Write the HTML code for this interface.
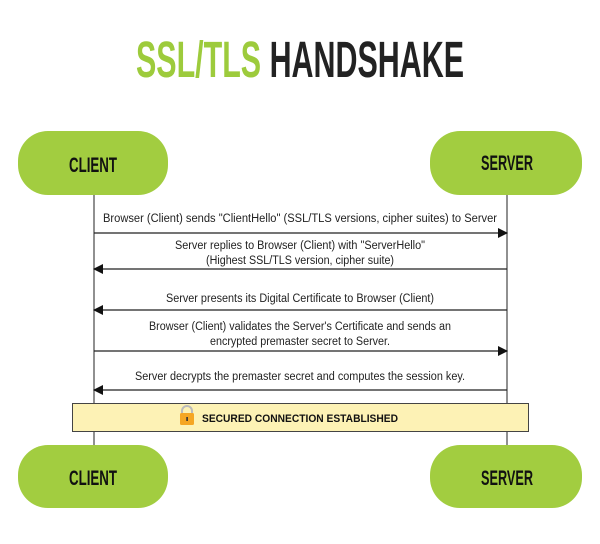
<!DOCTYPE html>
<html><head><style>html,body{margin:0;padding:0;background:#fff}</style></head>
<body>
<svg width="600" height="539" viewBox="0 0 600 539" xmlns="http://www.w3.org/2000/svg" font-family="Liberation Sans, sans-serif">
<defs>
<marker id="a" markerWidth="10" markerHeight="10" refX="9" refY="5" orient="auto" markerUnits="userSpaceOnUse"><path d="M0,0 L10,5 L0,10 z" fill="#111"/></marker>
</defs>
<text x="300" y="77" text-anchor="middle" font-size="51" font-weight="bold" textLength="328" lengthAdjust="spacingAndGlyphs"><tspan fill="#9dcb3c">SSL/TLS</tspan><tspan fill="#222"> HANDSHAKE</tspan></text>
<line x1="94" y1="195" x2="94" y2="445" stroke="#555" stroke-width="1.3"/>
<line x1="507" y1="195" x2="507" y2="445" stroke="#555" stroke-width="1.3"/>
<g fill="#a2cd40">
<rect x="18" y="131" width="150" height="64" rx="30"/>
<rect x="430" y="131" width="152" height="64" rx="30"/>
<rect x="18" y="445" width="150" height="63" rx="30"/>
<rect x="430" y="445" width="152" height="63" rx="30"/>
</g>
<g font-size="21" font-weight="bold" fill="#111" text-anchor="middle">
<text x="93" y="172" textLength="48" lengthAdjust="spacingAndGlyphs">CLIENT</text>
<text x="507" y="170" textLength="52" lengthAdjust="spacingAndGlyphs">SERVER</text>
<text x="93" y="485" textLength="48" lengthAdjust="spacingAndGlyphs">CLIENT</text>
<text x="507" y="485" textLength="52" lengthAdjust="spacingAndGlyphs">SERVER</text>
</g>
<g stroke="#222" stroke-width="1.3">
<line x1="94" y1="233" x2="507" y2="233" marker-end="url(#a)"/>
<line x1="507" y1="269" x2="94" y2="269" marker-end="url(#a)"/>
<line x1="507" y1="310" x2="94" y2="310" marker-end="url(#a)"/>
<line x1="94" y1="351" x2="507" y2="351" marker-end="url(#a)"/>
<line x1="507" y1="390" x2="94" y2="390" marker-end="url(#a)"/>
</g>
<g font-size="11.5" fill="#222" text-anchor="middle">
<text x="300" y="222" textLength="394" lengthAdjust="spacingAndGlyphs">Browser (Client) sends "ClientHello" (SSL/TLS versions, cipher suites) to Server</text>
<text x="300" y="249" textLength="250" lengthAdjust="spacingAndGlyphs">Server replies to Browser (Client) with "ServerHello"</text>
<text x="300" y="264" textLength="188" lengthAdjust="spacingAndGlyphs">(Highest SSL/TLS version, cipher suite)</text>
<text x="300" y="302" textLength="268" lengthAdjust="spacingAndGlyphs">Server presents its Digital Certificate to Browser (Client)</text>
<text x="300" y="330" textLength="302" lengthAdjust="spacingAndGlyphs">Browser (Client) validates the Server's Certificate and sends an</text>
<text x="300" y="345" textLength="180" lengthAdjust="spacingAndGlyphs">encrypted premaster secret to Server.</text>
<text x="300" y="380" textLength="330" lengthAdjust="spacingAndGlyphs">Server decrypts the premaster secret and computes the session key.</text>
</g>
<rect x="72.5" y="403.5" width="456" height="28" fill="#fdf2b5" stroke="#444" stroke-width="1"/>
<path d="M182,414 v-3 a5,5 0 0 1 10,0 v3" fill="none" stroke="#bbb" stroke-width="2"/>
<rect x="180" y="413" width="14" height="12" rx="1.5" fill="#f5a623"/>
<rect x="186.3" y="417" width="1.6" height="4" fill="#333"/>
<text x="300" y="422" font-size="11" font-weight="bold" fill="#111" text-anchor="middle" textLength="196" lengthAdjust="spacingAndGlyphs">SECURED CONNECTION ESTABLISHED</text>
</svg>
</body></html>
